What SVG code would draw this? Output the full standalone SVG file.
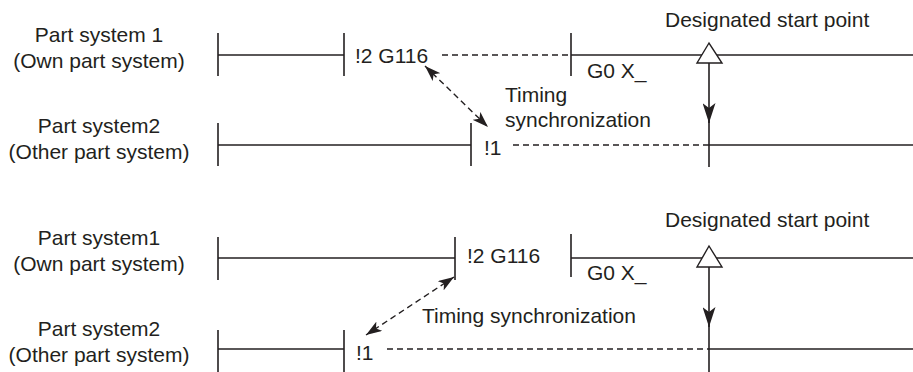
<svg xmlns="http://www.w3.org/2000/svg" width="913" height="372" viewBox="0 0 913 372">
<style>
text{font-family:"Liberation Sans",Arial,sans-serif;font-size:21px;fill:#231f20}
.lbl{text-anchor:middle}
.ln{stroke:#231f20;stroke-width:1.6;fill:none}
.ds{stroke:#231f20;stroke-width:1.4;fill:none;stroke-dasharray:6 4}
.tri{fill:#fff;stroke:#231f20;stroke-width:1.4}
</style>
<defs>
<marker id="big" viewBox="0 0 20 13" refX="20" refY="6.5" markerWidth="20" markerHeight="13" markerUnits="userSpaceOnUse" orient="auto-start-reverse">
<path d="M0,0 L20,6.5 L0,13 L5,6.5 z" fill="#231f20"/>
</marker>
<marker id="sm" viewBox="0 0 16 11" refX="16" refY="5.5" markerWidth="16" markerHeight="11" markerUnits="userSpaceOnUse" orient="auto-start-reverse">
<path d="M0,0 L16,5.5 L0,11 L4,5.5 z" fill="#231f20"/>
</marker>
</defs>

<!-- Top diagram -->
<g id="top-labels">
<text class="lbl" x="99" y="42">Part system 1</text>
<text class="lbl" x="99" y="68">(Own part system)</text>
<text class="lbl" x="99" y="133">Part system2</text>
<text class="lbl" x="99" y="159">(Other part system)</text>
</g>
<g id="top-ps1">
<line class="ln" x1="218" y1="33" x2="218" y2="76"/>
<line class="ln" x1="218" y1="55" x2="344" y2="55"/>
<line class="ln" x1="344" y1="33" x2="344" y2="76"/>
<text x="355" y="63">!2 G116</text>
<line class="ds" x1="442" y1="55" x2="571" y2="55"/>
<line class="ln" x1="571" y1="33" x2="571" y2="76"/>
<line class="ln" x1="571" y1="55" x2="913" y2="55"/>
<text x="587" y="78">G0 X_</text>
</g>
<g id="top-ps2">
<line class="ln" x1="218" y1="123" x2="218" y2="166"/>
<line class="ln" x1="218" y1="145" x2="471" y2="145"/>
<line class="ln" x1="471" y1="123" x2="471" y2="166"/>
<text x="484" y="155">!1</text>
<line class="ds" x1="513" y1="145" x2="709" y2="145"/>
<line class="ln" x1="709" y1="145" x2="913" y2="145"/>
</g>
<g id="top-start">
<text x="665" y="27">Designated start point</text>
</g>
<g id="top-sync">
<text x="505" y="102">Timing</text>
<text x="505" y="127">synchronization</text>
</g>
<g id="top-connectors">
<line class="ds" x1="425" y1="66" x2="488" y2="127" marker-start="url(#sm)" marker-end="url(#sm)"/>
<line class="ln" x1="709" y1="63" x2="709" y2="123" marker-end="url(#big)"/>
<line class="ln" x1="709" y1="120" x2="709" y2="167"/>
<polygon class="tri" points="709,43 697,63 722,63"/>
</g>

<!-- Bottom diagram -->
<g id="bot-labels">
<text class="lbl" x="99" y="245">Part system1</text>
<text class="lbl" x="99" y="271">(Own part system)</text>
<text class="lbl" x="99" y="336">Part system2</text>
<text class="lbl" x="99" y="362">(Other part system)</text>
</g>
<g id="bot-ps1">
<line class="ln" x1="218" y1="237" x2="218" y2="280"/>
<line class="ln" x1="218" y1="258" x2="455" y2="258"/>
<line class="ln" x1="455" y1="237" x2="455" y2="280"/>
<text x="467" y="263">!2 G116</text>
<line class="ln" x1="571" y1="234" x2="571" y2="277"/>
<line class="ln" x1="571" y1="258" x2="913" y2="258"/>
<text x="587" y="280">G0 X_</text>
</g>
<g id="bot-ps2">
<line class="ln" x1="218" y1="330" x2="218" y2="372"/>
<line class="ln" x1="218" y1="349" x2="344" y2="349"/>
<line class="ln" x1="344" y1="330" x2="344" y2="372"/>
<text x="356" y="360">!1</text>
<line class="ds" x1="387" y1="349" x2="709" y2="349"/>
<line class="ln" x1="709" y1="349" x2="913" y2="349"/>
</g>
<g id="bot-start">
<text x="665" y="227">Designated start point</text>
</g>
<g id="bot-sync">
<text x="422" y="323">Timing synchronization</text>
</g>
<g id="bot-connectors">
<line class="ds" x1="454" y1="277" x2="366" y2="335" marker-start="url(#sm)" marker-end="url(#sm)"/>
<line class="ln" x1="709" y1="267" x2="709" y2="327" marker-end="url(#big)"/>
<line class="ln" x1="709" y1="324" x2="709" y2="372"/>
<polygon class="tri" points="709,246 697,267 722,267"/>
</g>
</svg>
